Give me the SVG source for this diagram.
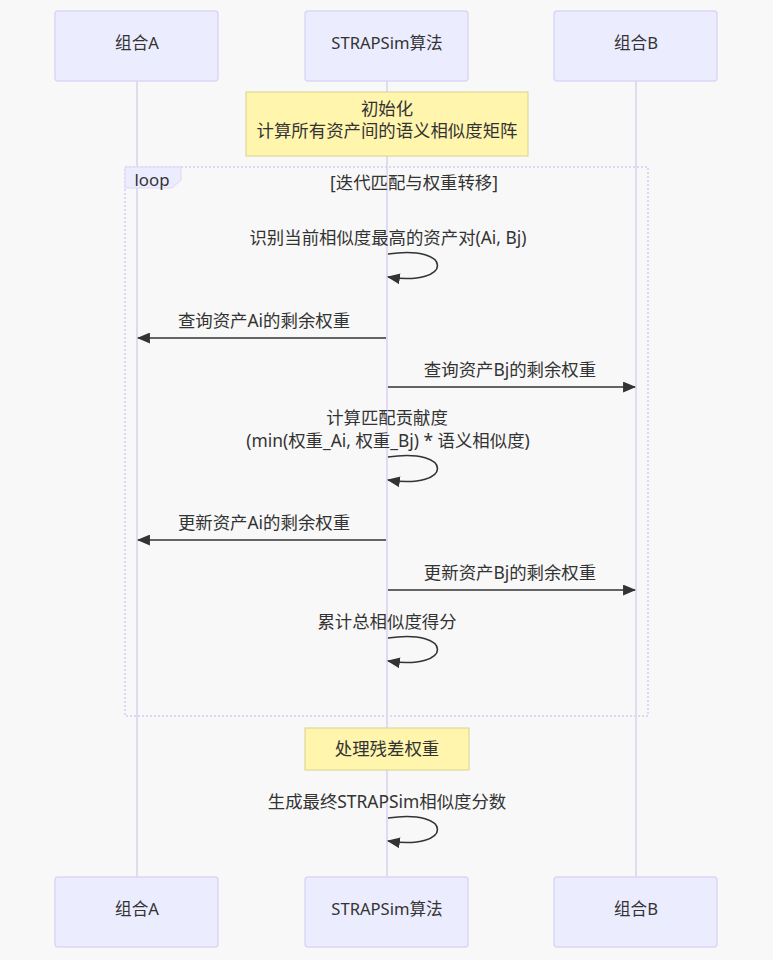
<svg xmlns="http://www.w3.org/2000/svg" width="773" height="960" viewBox="0 0 773 960">
<defs>
<style>
text{font-family:"Noto Sans","Noto Sans CJK SC",sans-serif;font-size:17.4px;fill:#333;text-anchor:middle;dominant-baseline:central}
text.al{font-size:16.6px}
.actor{fill:#ececff;stroke:#dcd6f5;stroke-width:1.5}
.life{stroke:#d8d0f2;stroke-width:1.5}
.note{fill:#fff5ad;stroke:#d8d28a;stroke-width:1}
.msg{stroke:#333;stroke-width:1.6;fill:none}
.loopbox{fill:none;stroke:#ddd6f5;stroke-width:2;stroke-dasharray:2 2}
.looplab{fill:#ececff;stroke:#dcd6f5;stroke-width:1}
</style>
<marker id="arr" viewBox="0 0 12 10" refX="11" refY="5" markerWidth="13" markerHeight="11" markerUnits="userSpaceOnUse" orient="auto">
<path d="M0,0 L12,5 L0,10 z" fill="#333"/>
</marker>
</defs>
<rect width="773" height="960" fill="#f8f8f8"/>
<g id="lifelines">
<line class="life" x1="137" y1="81" x2="137" y2="877"/>
<line class="life" x1="387" y1="81" x2="387" y2="877"/>
<line class="life" x1="636" y1="81" x2="636" y2="877"/>
</g>
<g id="actorA-top"><rect class="actor" x="55" y="11" width="163" height="70" rx="3"/><text class="al" x="137" y="42">组合A</text></g>
<g id="actorS-top"><rect class="actor" x="305" y="11" width="163" height="70" rx="3"/><text class="al" x="387" y="42">STRAPSim算法</text></g>
<g id="actorB-top"><rect class="actor" x="554" y="11" width="163" height="70" rx="3"/><text class="al" x="636" y="42">组合B</text></g>
<g id="note1"><rect class="note" x="246" y="92" width="282" height="64"/><text x="387" y="108">初始化</text><text x="387" y="130">计算所有资产间的语义相似度矩阵</text></g>
<g id="loop">
<rect class="loopbox" x="125" y="167" width="523" height="549"/>
<path class="looplab" d="M125,167 H181 V180 L172,188 H125 Z"/>
<text x="152" y="179" style="font-size:16.8px">loop</text>
<text x="414" y="182">[迭代匹配与权重转移]</text>
</g>
<g id="note2"><rect class="note" x="305" y="728" width="164" height="42"/><text x="387" y="748">处理残差权重</text></g>
<g id="connectors">
<text x="388" y="237">识别当前相似度最高的资产对(Ai, Bj)</text>
<path class="msg" marker-end="url(#arr)" d="M388,254 C454,244 454,287 388,277"/>
<text x="264" y="320">查询资产Ai的剩余权重</text>
<line class="msg" marker-end="url(#arr)" x1="386" y1="338" x2="138" y2="338"/>
<text x="510" y="369">查询资产Bj的剩余权重</text>
<line class="msg" marker-end="url(#arr)" x1="388" y1="387" x2="635" y2="387"/>
<text x="387" y="417">计算匹配贡献度</text>
<text x="388" y="440">(min(权重_Ai, 权重_Bj) * 语义相似度)</text>
<path class="msg" marker-end="url(#arr)" d="M388,457 C454,447 454,490 388,480"/>
<text x="264" y="522">更新资产Ai的剩余权重</text>
<line class="msg" marker-end="url(#arr)" x1="386" y1="540" x2="138" y2="540"/>
<text x="510" y="572">更新资产Bj的剩余权重</text>
<line class="msg" marker-end="url(#arr)" x1="388" y1="590" x2="635" y2="590"/>
<text x="387" y="621">累计总相似度得分</text>
<path class="msg" marker-end="url(#arr)" d="M388,638 C454,628 454,671 388,661"/>
<text x="387" y="801">生成最终STRAPSim相似度分数</text>
<path class="msg" marker-end="url(#arr)" d="M388,818 C454,808 454,851 388,841"/>
</g>
<g id="actorA-bot"><rect class="actor" x="55" y="877" width="163" height="70" rx="3"/><text class="al" x="137" y="908">组合A</text></g>
<g id="actorS-bot"><rect class="actor" x="305" y="877" width="163" height="70" rx="3"/><text class="al" x="387" y="908">STRAPSim算法</text></g>
<g id="actorB-bot"><rect class="actor" x="554" y="877" width="163" height="70" rx="3"/><text class="al" x="636" y="908">组合B</text></g>
</svg>
